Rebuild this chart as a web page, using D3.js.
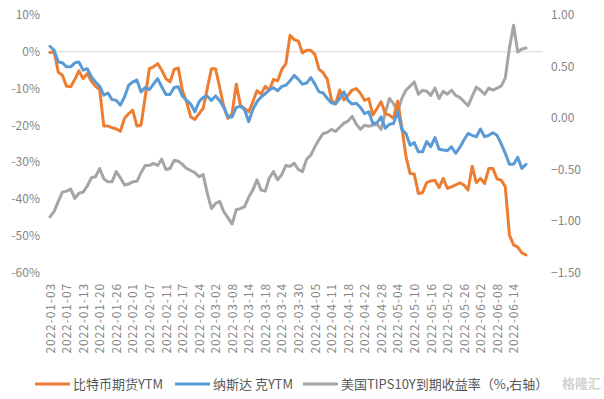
<!DOCTYPE html>
<html><head><meta charset="utf-8">
<script src="https://cdn.jsdelivr.net/npm/d3@7"></script>
<style>
html,body{margin:0;padding:0;background:#fff;}
svg{display:block;font-family:"Noto Sans CJK SC","Noto Sans",sans-serif;}
</style></head>
<body><svg id="c" width="604" height="399"></svg>
<script>
const dates = [
"2022-01-03","2022-01-04","2022-01-05","2022-01-06","2022-01-07","2022-01-10","2022-01-11","2022-01-12","2022-01-13","2022-01-14",
"2022-01-18","2022-01-19","2022-01-20","2022-01-21","2022-01-24","2022-01-25","2022-01-26","2022-01-27","2022-01-28","2022-01-31",
"2022-02-01","2022-02-02","2022-02-03","2022-02-04","2022-02-07","2022-02-08","2022-02-09","2022-02-10","2022-02-11","2022-02-14",
"2022-02-15","2022-02-16","2022-02-17","2022-02-18","2022-02-22","2022-02-23","2022-02-24","2022-02-25","2022-02-28","2022-03-01",
"2022-03-02","2022-03-03","2022-03-04","2022-03-07","2022-03-08","2022-03-09","2022-03-10","2022-03-11","2022-03-14","2022-03-15",
"2022-03-16","2022-03-17","2022-03-18","2022-03-21","2022-03-22","2022-03-23","2022-03-24","2022-03-25","2022-03-28","2022-03-29",
"2022-03-30","2022-03-31","2022-04-01","2022-04-04","2022-04-05","2022-04-06","2022-04-07","2022-04-08","2022-04-11","2022-04-12",
"2022-04-13","2022-04-14","2022-04-18","2022-04-19","2022-04-20","2022-04-21","2022-04-22","2022-04-25","2022-04-26","2022-04-27",
"2022-04-28","2022-04-29","2022-05-02","2022-05-03","2022-05-04","2022-05-05","2022-05-06","2022-05-09","2022-05-10","2022-05-11",
"2022-05-12","2022-05-13","2022-05-16","2022-05-17","2022-05-18","2022-05-19","2022-05-20","2022-05-23","2022-05-24","2022-05-25",
"2022-05-26","2022-05-27","2022-05-31","2022-06-01","2022-06-02","2022-06-03","2022-06-06","2022-06-07","2022-06-08","2022-06-09",
"2022-06-10","2022-06-13","2022-06-14","2022-06-15","2022-06-16","2022-06-17"];

const tickLabels = ["2022-01-03","2022-01-07","2022-01-13","2022-01-20","2022-01-26","2022-02-01","2022-02-07","2022-02-11","2022-02-17","2022-02-24",
"2022-03-02","2022-03-08","2022-03-14","2022-03-18","2022-03-24","2022-03-30","2022-04-05","2022-04-11","2022-04-18","2022-04-22",
"2022-04-28","2022-05-04","2022-05-10","2022-05-16","2022-05-20","2022-05-26","2022-06-02","2022-06-08","2022-06-14"];

// 比特币期货YTM (%)
const btc = [-0.2,0.0,-5.5,-6.4,-9.4,-9.5,-7.5,-5.2,-7.3,-5.9,
-8.0,-9.4,-10.3,-20.2,-20.2,-20.6,-21.0,-21.6,-18.1,-16.8,
-15.9,-20.2,-19.9,-12.3,-4.6,-4.1,-3.2,-5.0,-7.3,-8.2,
-4.8,-4.4,-10.6,-13.6,-17.7,-18.4,-16.8,-15.4,-10.0,-4.6,
-4.6,-9.7,-15.0,-18.1,-16.8,-8.8,-14.5,-15.4,-16.3,-13.6,
-10.6,-11.5,-9.4,-10.4,-7.5,-7.9,-4.8,-3.2,4.5,3.3,
2.9,-0.3,0.4,0.4,-0.7,-4.8,-5.7,-7.5,-13.1,-14.2,
-10.4,-13.1,-11.8,-10.4,-10.0,-11.3,-13.2,-12.7,-17.2,-15.4,
-13.6,-16.8,-17.2,-18.1,-13.4,-20.4,-28.5,-33.1,-33.2,-38.5,
-38.3,-35.6,-35.1,-34.9,-36.9,-34.4,-37.1,-36.7,-36.2,-35.6,
-36.2,-37.6,-31.1,-35.6,-34.4,-35.8,-31.7,-31.7,-34.6,-34.9,
-36.7,-49.8,-52.5,-53.1,-54.7,-55.2];

// 纳斯达克YTM (%)
const ndx = [1.5,0.4,-2.8,-3.0,-4.1,-4.1,-3.0,-2.8,-5.0,-4.6,
-6.8,-8.2,-9.4,-11.8,-11.2,-13.0,-13.2,-14.5,-12.3,-9.1,
-8.2,-7.7,-10.9,-9.7,-10.3,-8.8,-7.3,-9.5,-11.6,-11.6,
-9.7,-9.5,-12.1,-13.2,-14.2,-16.3,-13.6,-12.4,-12.1,-13.2,
-12.0,-13.3,-15.1,-17.7,-17.7,-15.1,-14.8,-15.7,-19.0,-15.7,
-13.6,-12.3,-11.4,-10.3,-9.8,-10.6,-9.4,-9.1,-7.9,-6.4,
-7.5,-8.8,-8.5,-7.0,-8.8,-10.9,-11.2,-12.7,-13.9,-14.1,
-12.7,-10.9,-13.2,-14.2,-14.0,-15.1,-16.8,-16.3,-19.5,-19.3,
-17.7,-20.8,-19.7,-19.5,-16.3,-21.1,-22.2,-25.4,-24.7,-27.2,
-27.2,-24.4,-25.8,-23.3,-26.5,-26.7,-26.9,-25.8,-27.6,-26.0,
-24.0,-22.2,-22.7,-23.1,-21.0,-23.1,-22.7,-22.0,-22.7,-25.0,
-27.6,-30.6,-30.6,-28.7,-31.7,-30.6];

// 美国TIPS10Y到期收益率 (%, 右轴)
const tips = [-0.96,-0.906,-0.81,-0.72,-0.71,-0.69,-0.78,-0.73,-0.72,-0.66,
-0.58,-0.57,-0.49,-0.59,-0.62,-0.62,-0.52,-0.58,-0.65,-0.64,
-0.62,-0.615,-0.53,-0.46,-0.46,-0.44,-0.46,-0.40,-0.50,-0.49,
-0.41,-0.42,-0.45,-0.49,-0.51,-0.53,-0.57,-0.55,-0.73,-0.88,
-0.83,-0.81,-0.91,-0.97,-1.03,-0.89,-0.88,-0.86,-0.77,-0.70,
-0.60,-0.70,-0.71,-0.58,-0.52,-0.60,-0.55,-0.46,-0.47,-0.44,
-0.50,-0.52,-0.40,-0.36,-0.28,-0.21,-0.15,-0.14,-0.11,-0.13,
-0.09,-0.05,-0.03,0.015,-0.06,-0.11,-0.07,-0.08,-0.07,-0.06,
-0.11,0.05,0.19,0.14,0.06,0.19,0.27,0.31,0.35,0.23,
0.27,0.26,0.22,0.29,0.19,0.26,0.23,0.27,0.22,0.20,
0.16,0.12,0.21,0.30,0.27,0.23,0.29,0.27,0.29,0.31,
0.39,0.68,0.90,0.64,0.67,0.68];

const leftTicks = [10,0,-10,-20,-30,-40,-50,-60];
const rightTicks = [1.0,0.5,0.0,-0.5,-1.0,-1.5];

const seriesNames = ["比特币期货YTM","纳斯达 克YTM","美国TIPS10Y到期收益率（%,右轴）"];
const colors = ["#ED7D31","#5B9BD5","#A5A5A5"];

const svg = d3.select("#c");
const x = d3.scalePoint().domain(dates).range([50, 526]);
const yL = d3.scaleLinear().domain([-60,10]).range([272.5,15]);
const yR = d3.scaleLinear().domain([-1.5,1]).range([272.5,15]);

// zero line (category axis)
svg.append("line").attr("x1",48).attr("x2",543).attr("y1",yL(0)).attr("y2",yL(0))
  .attr("stroke","#d9d9d9").attr("stroke-width",1);

const labelColor = "#858585";
const ff = "'Noto Sans CJK SC','Noto Sans',sans-serif";
const gl = svg.append("g").attr("transform","translate(40,0)")
  .call(d3.axisLeft(yL).tickValues(leftTicks).tickSize(0).tickPadding(0).tickFormat(d=>d+"%"));
gl.select(".domain").remove();
gl.selectAll("text").attr("fill",labelColor).style("font-size","12px").style("font-family",ff);

const gr = svg.append("g").attr("transform","translate(551,0)")
  .call(d3.axisRight(yR).tickValues(rightTicks).tickSize(0).tickPadding(0).tickFormat(d3.format(".2f")));
gr.select(".domain").remove();
gr.selectAll("text").attr("fill",labelColor).style("font-size","12px").style("font-family",ff);

const gx = svg.append("g").attr("transform","translate(0,273)")
  .call(d3.axisBottom(x).tickValues(tickLabels).tickSize(0));
gx.select(".domain").remove();
gx.selectAll("text")
  .attr("transform","rotate(-90)")
  .attr("x",-10).attr("y",0).attr("dy","0.35em")
  .style("text-anchor","end").style("letter-spacing","0.9px")
  .attr("fill",labelColor).style("font-size","12px").style("font-family",ff);

const lineL = d3.line().x((d,i)=>x(dates[i])).y(d=>yL(d));
const lineR = d3.line().x((d,i)=>x(dates[i])).y(d=>yR(d));

svg.append("path").datum(tips).attr("d",lineR).attr("fill","none").attr("stroke",colors[2])
  .attr("stroke-width",3).attr("stroke-linejoin","round").attr("stroke-linecap","round");
svg.append("path").datum(btc).attr("d",lineL).attr("fill","none").attr("stroke",colors[0])
  .attr("stroke-width",3).attr("stroke-linejoin","round").attr("stroke-linecap","round");
svg.append("path").datum(ndx).attr("d",lineL).attr("fill","none").attr("stroke",colors[1])
  .attr("stroke-width",3).attr("stroke-linejoin","round").attr("stroke-linecap","round");

// legend
const legendX = [35,175,303];
const lg = svg.append("g");
seriesNames.forEach((n,k)=>{
  lg.append("line").attr("x1",legendX[k]).attr("x2",legendX[k]+35).attr("y1",384).attr("y2",384)
    .attr("stroke",colors[k]).attr("stroke-width",3);
  lg.append("text").attr("x",legendX[k]+38).attr("y",384).attr("dy","0.35em")
    .attr("fill","#595959").style("font-size","13px").text(n);
});
// watermark
svg.append("text").attr("x",601).attr("y",383).attr("dy","0.35em").attr("text-anchor","end")
  .attr("fill","#c8c8c8").attr("opacity",0.8).style("font-size","13px").style("font-weight","bold").text("格隆汇");
</script>
</body></html>
